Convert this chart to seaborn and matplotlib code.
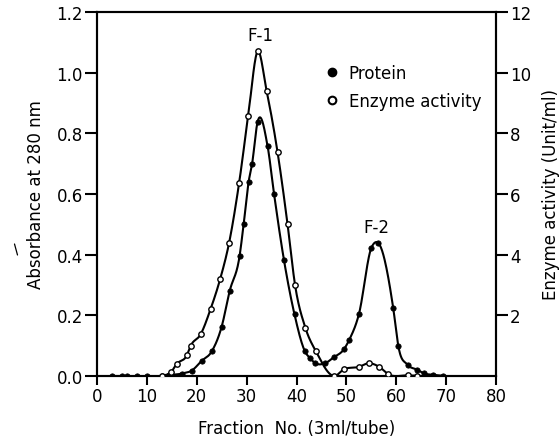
import numpy as np
import pandas as pd
import matplotlib
matplotlib.use("Agg")
import matplotlib.pyplot as plt
from matplotlib.lines import Line2D
import seaborn as sns

# Protein elution profile (absorbance at 280 nm)
protein_fraction = [3, 5, 6, 8, 10, 13, 14.5, 17, 19, 21, 23, 25, 26.6, 28.6, 29.4,
                    30.4, 31.1, 32.2, 34.2, 35.5, 37.5, 39.6, 41.7, 42.7, 43.8, 45.7,
                    47.5, 49.5, 50.6, 52.5, 55.0, 56.3, 59.4, 60.4, 62.3, 64.2, 65.5,
                    67.4, 69.3]
protein_abs = [0, 0, 0, 0, 0, 0, 0.003, 0.008, 0.018, 0.05, 0.081, 0.163, 0.28, 0.397,
               0.50, 0.64, 0.70, 0.838, 0.758, 0.60, 0.381, 0.203, 0.081, 0.059, 0.042,
               0.042, 0.062, 0.088, 0.12, 0.203, 0.422, 0.44, 0.223, 0.10, 0.037,
               0.021, 0.009, 0.004, 0.001]

# Enzyme activity profile (Unit/ml)
enzyme_fraction = [13, 14.8, 16.0, 18.0, 18.8, 20.8, 22.8, 24.7, 26.5, 28.5, 30.3, 32.2,
                   34.0, 36.2, 38.2, 39.7, 41.8, 43.9, 47.6, 49.5, 52.5, 54.5, 56.6,
                   58.4, 62.3, 64.2]
enzyme_activity = [0, 0.12, 0.40, 0.68, 1.0, 1.38, 2.22, 3.2, 4.4, 6.37, 8.56, 10.7,
                   9.41, 7.38, 5.01, 3.01, 1.58, 0.81, 0.0, 0.22, 0.30, 0.42, 0.30,
                   0.06, 0.02, 0.01]

x_ticks = [0, 10, 20, 30, 40, 50, 60, 70, 80]
abs_ticks = [0.0, 0.2, 0.4, 0.6, 0.8, 1.0, 1.2]
act_ticks = [2, 4, 6, 8, 10, 12]


def smooth_curve(x, y, n=25):
    """Cubic Hermite curve through the measured points."""
    x = np.asarray(x, float)
    y = np.asarray(y, float)
    m = np.gradient(y, x)
    xs, ys = [], []
    for i in range(len(x) - 1):
        h = x[i + 1] - x[i]
        t = np.linspace(0, 1, n, endpoint=False)
        h00 = 2 * t**3 - 3 * t**2 + 1
        h10 = t**3 - 2 * t**2 + t
        h01 = -2 * t**3 + 3 * t**2
        h11 = t**3 - t**2
        xs.append(x[i] + t * h)
        ys.append(h00 * y[i] + h10 * h * m[i] + h01 * y[i + 1] + h11 * h * m[i + 1])
    xs.append([x[-1]])
    ys.append([y[-1]])
    return np.concatenate(xs), np.concatenate(ys)


sns.set_style("ticks")
plt.rcParams["font.family"] = ["DejaVu Sans"]
plt.rcParams.update({
    "axes.linewidth": 1.5,
    "text.color": "black",
    "axes.labelcolor": "black",
    "xtick.color": "black",
    "ytick.color": "black",
    "axes.edgecolor": "black",
})

fig = plt.figure(figsize=(5.59, 4.39), dpi=100)
ax = fig.add_axes([97 / 559, 1 - 377 / 439, 399 / 559, 364 / 439])
ax2 = ax.twinx()

prot = pd.DataFrame({"fraction": protein_fraction, "abs": protein_abs})
enz = pd.DataFrame({"fraction": enzyme_fraction, "act": enzyme_activity})

px, py = smooth_curve(protein_fraction, protein_abs)
ex, ey = smooth_curve(enzyme_fraction, enzyme_activity)

sns.lineplot(x=px, y=py, ax=ax, color="black", lw=1.5, sort=False, estimator=None)
sns.scatterplot(data=prot, x="fraction", y="abs", ax=ax, color="black", s=15,
                edgecolor="black", linewidth=0.5, zorder=3)

sns.lineplot(x=ex, y=ey, ax=ax2, color="black", lw=1.5, sort=False, estimator=None)
sns.scatterplot(data=enz, x="fraction", y="act", ax=ax2, facecolor="white", s=15,
                edgecolor="black", linewidth=1.0, zorder=3)

ax.set_xlim(0, 80)
ax.set_ylim(0, 1.2)
ax2.set_ylim(0, 12)

ax.set_xticks(x_ticks)
ax.set_yticks(abs_ticks)
ax.set_yticklabels([f"{v:.1f}" for v in abs_ticks])
ax2.set_yticks(act_ticks)

ax.tick_params(axis="y", direction="out", length=8.6, width=1.5, pad=1.5, labelsize=12)
ax.tick_params(axis="x", direction="out", length=6.5, width=1.5, pad=1.5, labelsize=12)
ax2.tick_params(axis="y", direction="out", length=8.6, width=1.5, pad=1.5, labelsize=12)

ax.set_xlabel("Fraction  No. (3ml/tube)", fontsize=12, labelpad=10)
ax.set_ylabel("Absorbance at 280 nm", fontsize=12, labelpad=8)
ax2.set_ylabel("Enzyme activity (Unit/ml)", fontsize=12, labelpad=8)

for a in (ax, ax2):
    for sp in a.spines.values():
        sp.set_visible(True)
        sp.set_linewidth(1.5)
        sp.set_color("black")

ax.text(32.8, 1.125, "F-1", fontsize=12, ha="center", va="center")
ax2.text(56.0, 4.9, "F-2", fontsize=12, ha="center", va="center")

handles = [
    Line2D([], [], marker="o", ls="none", color="black", markersize=6),
    Line2D([], [], marker="o", ls="none", markerfacecolor="white",
           markeredgecolor="black", markeredgewidth=1.5, markersize=5.5),
]
ax2.legend(handles, ["Protein", "Enzyme activity"], loc="upper left",
           bbox_to_anchor=(0.568, 0.858), frameon=False, fontsize=12,
           handlelength=1.0, handletextpad=0.5, labelspacing=0.6,
           borderpad=0, borderaxespad=0)

# short stroke beside the left axis title
fig.add_artist(Line2D([14.5 / 559, 17.5 / 559], [1 - 245 / 439, 1 - 256 / 439],
                      color="black", lw=0.9, transform=fig.transFigure))

fig.savefig("out.png", dpi=100)
